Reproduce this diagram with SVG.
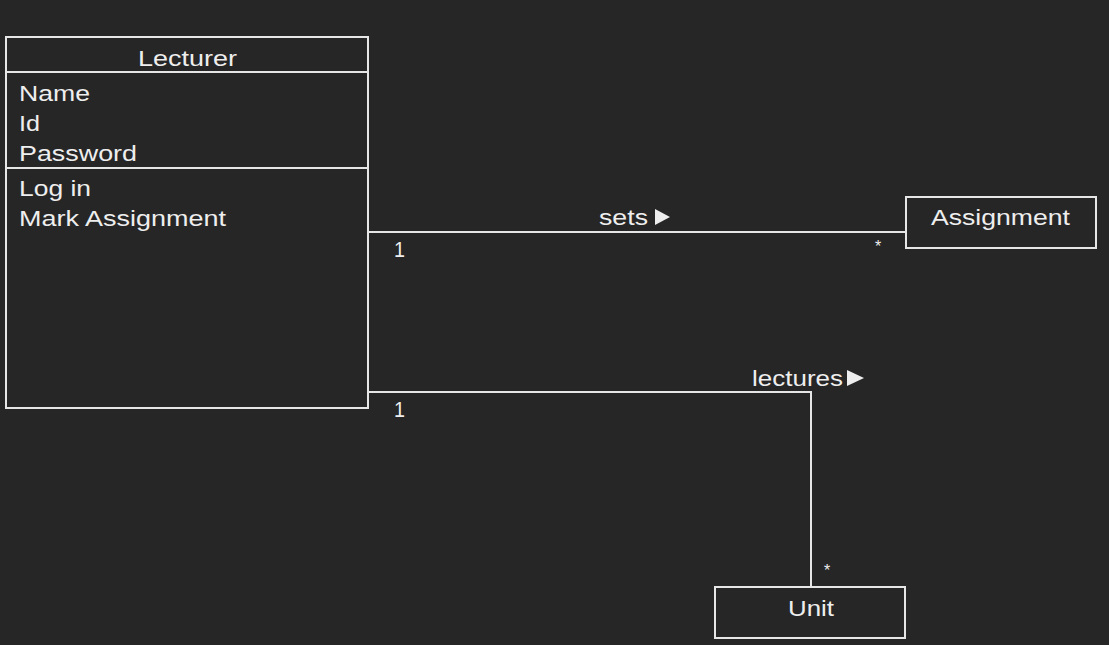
<svg xmlns="http://www.w3.org/2000/svg" width="1109" height="645" viewBox="0 0 1109 645">
<style>
.box{fill:#262626;stroke:#e6e6e6;stroke-width:2}
.ln{fill:none;stroke:#e6e6e6;stroke-width:2}
text{font-family:"Liberation Sans",Arial,sans-serif;font-size:22px;fill:#eeeeee}
.s{font-size:16px}
.tri{fill:#eeeeee}
</style>
<rect width="1109" height="645" fill="#262626"/>
<g id="connectors">
<polyline class="ln" points="368,232 906,232"/>
<polyline class="ln" points="368,392 811,392 811,587"/>
<text x="599" y="225" textLength="49" lengthAdjust="spacingAndGlyphs">sets</text>
<polygon class="tri" points="655,209 670,217 655,225"/>
<text x="394" y="257" textLength="11" lengthAdjust="spacingAndGlyphs">1</text>
<text x="875" y="252" class="s">*</text>
<text x="752" y="386" textLength="91" lengthAdjust="spacingAndGlyphs">lectures</text>
<polygon class="tri" points="847,370 864,378 847,386"/>
<text x="394" y="417" textLength="11" lengthAdjust="spacingAndGlyphs">1</text>
<text x="824" y="576" class="s">*</text>
</g>
<g id="lecturer">
<rect class="box" x="6" y="37" width="362" height="371"/>
<line class="ln" x1="6" y1="72" x2="368" y2="72"/>
<line class="ln" x1="6" y1="168" x2="368" y2="168"/>
<text x="138" y="66" textLength="99" lengthAdjust="spacingAndGlyphs">Lecturer</text>
<text x="19" y="101" textLength="71" lengthAdjust="spacingAndGlyphs">Name</text>
<text x="19" y="131" textLength="21" lengthAdjust="spacingAndGlyphs">Id</text>
<text x="19" y="161" textLength="118" lengthAdjust="spacingAndGlyphs">Password</text>
<text x="19" y="196" textLength="72" lengthAdjust="spacingAndGlyphs">Log in</text>
<text x="19" y="226" textLength="207" lengthAdjust="spacingAndGlyphs">Mark Assignment</text>
</g>
<g id="assignment">
<rect class="box" x="906" y="197" width="190" height="51"/>
<text x="931" y="225" textLength="139" lengthAdjust="spacingAndGlyphs">Assignment</text>
</g>
<g id="unit">
<rect class="box" x="715" y="587" width="190" height="51"/>
<text x="788" y="616" textLength="46" lengthAdjust="spacingAndGlyphs">Unit</text>
</g>
</svg>
